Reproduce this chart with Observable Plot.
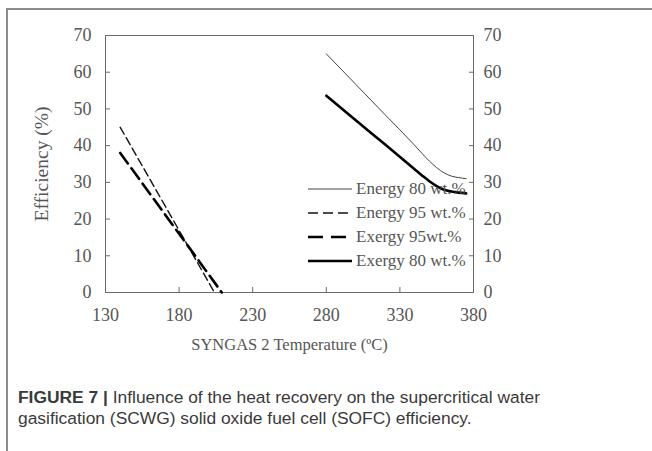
<!DOCTYPE html>
<html><head><meta charset="utf-8">
<script src="https://cdn.jsdelivr.net/npm/d3@7"></script>
<script src="https://cdn.jsdelivr.net/npm/@observablehq/plot@0.6"></script>
<style>
body{margin:0;background:#fff;}
#wrap{position:relative;width:652px;height:451px;overflow:hidden;background:#fff;}
#frame{position:absolute;left:6px;top:8px;width:700px;height:500px;border-left:2px solid #8c8c8c;border-top:2px solid #8c8c8c;box-sizing:border-box;}
#chart{position:absolute;left:0;top:0;}
#legend{position:absolute;left:308px;top:177px;font-family:"Liberation Serif","Times New Roman",serif;font-size:17px;color:#555;}
.row{display:flex;align-items:center;height:24px;white-space:nowrap;}
.row svg{margin-right:4px;}
#caption{position:absolute;left:18px;top:387px;font-family:"Liberation Sans",Arial,sans-serif;font-size:17.4px;color:#3a3a3a;line-height:21px;}
#caption b{font-weight:bold;}
</style></head>
<body>
<div id="wrap">
<div id="frame"></div>
<div id="chart"></div>
<div id="legend"></div>
<div id="caption"><b>FIGURE 7 |</b> Influence of the heat recovery on the supercritical water<br>gasification (SCWG) solid oxide fuel cell (SOFC) efficiency.</div>
</div>
<script>
// ---- data ----
const xTicks = [130, 180, 230, 280, 330, 380];
const yTicks = [0, 10, 20, 30, 40, 50, 60, 70];

const tempEnergy80 = [280, 300, 320, 340, 345, 350, 355, 360, 365, 370, 375];
const energy80     = [65, 56.7, 48.4, 40.1, 37.9, 35.8, 34.0, 32.6, 31.7, 31.3, 31.0];

const tempExergy80 = [280, 300, 320, 340, 345, 350, 355, 360, 365, 370, 375];
const exergy80     = [53.6, 46.9, 40.3, 33.6, 31.9, 30.3, 29.0, 28.0, 27.5, 27.2, 27.0];

const tempEnergy95 = [140, 186, 204];
const energy95     = [45, 12.7, 0];

const tempExergy95 = [140, 186, 209];
const exergy95     = [38, 12.7, 0];

const seriesNames = ["Energy 80 wt.%", "Energy 95 wt.%", "Exergy 95wt.%", "Exergy 80 wt.%"];

// ---- build tables ----
const toRows = (xs, ys) => xs.map((x, i) => ({x, y: ys[i]}));
const dE80 = toRows(tempEnergy80, energy80);
const dX80 = toRows(tempExergy80, exergy80);
const dE95 = toRows(tempEnergy95, energy95);
const dX95 = toRows(tempExergy95, exergy95);

const styles = {
  "Energy 80 wt.%": {stroke: "#444", strokeWidth: 1, dash: null},
  "Energy 95 wt.%": {stroke: "#111", strokeWidth: 1.4, dash: "8,4"},
  "Exergy 95wt.%":  {stroke: "#000", strokeWidth: 2.6, dash: "13,6"},
  "Exergy 80 wt.%": {stroke: "#000", strokeWidth: 2.6, dash: null}
};
const font = '"Liberation Serif","Times New Roman",serif';

const chart = Plot.plot({
  width: 652,
  height: 360,
  marginLeft: 105,
  marginRight: 179,
  marginTop: 35,
  marginBottom: 68,
  style: {fontFamily: font, fontSize: "16px", color: "#555", background: "transparent"},
  x: {domain: [130, 380]},
  y: {domain: [0, 70]},
  marks: [
    Plot.frame({stroke: "#6a6a6a"}),
    // inward ticks
    Plot.axisX({ticks: xTicks, tickSize: 5, dy: -5, tickFormat: () => "", label: null, stroke: "#6a6a6a"}),
    Plot.axisY({anchor: "left", ticks: yTicks, tickSize: 5, dx: 5, tickFormat: () => "", label: null, stroke: "#6a6a6a"}),
    Plot.axisY({anchor: "right", ticks: yTicks, tickSize: 5, dx: -5, tickFormat: () => "", label: null, stroke: "#6a6a6a"}),
    // labels
    Plot.axisX({ticks: xTicks, tickSize: 0, tickPadding: 16, fill: "#555", fontSize: 18, label: null}),
    Plot.axisY({anchor: "left", ticks: yTicks, tickSize: 0, tickPadding: 14, fill: "#555", fontSize: 18, label: null}),
    Plot.axisY({anchor: "right", ticks: yTicks, tickSize: 0, tickPadding: 10, fill: "#555", fontSize: 18, label: null}),
    Plot.axisX({ticks: [], tickSize: 0, fill: "#555", fontSize: 16.5,
      label: "SYNGAS 2 Temperature (ºC)", labelAnchor: "center", labelOffset: 57, labelArrow: false}),
    Plot.axisY({anchor: "left", ticks: [], tickSize: 0, fill: "#555", fontSize: 19.5,
      label: "Efficiency (%)", labelAnchor: "center", labelOffset: 71, labelArrow: false}),
    // series
    Plot.line(dE80, {x: "x", y: "y", curve: "monotone-x", stroke: styles["Energy 80 wt.%"].stroke, strokeWidth: styles["Energy 80 wt.%"].strokeWidth}),
    Plot.line(dX80, {x: "x", y: "y", curve: "monotone-x", stroke: styles["Exergy 80 wt.%"].stroke, strokeWidth: styles["Exergy 80 wt.%"].strokeWidth}),
    Plot.line(dE95, {x: "x", y: "y", stroke: styles["Energy 95 wt.%"].stroke, strokeWidth: styles["Energy 95 wt.%"].strokeWidth, strokeDasharray: styles["Energy 95 wt.%"].dash}),
    Plot.line(dX95, {x: "x", y: "y", stroke: styles["Exergy 95wt.%"].stroke, strokeWidth: styles["Exergy 95wt.%"].strokeWidth, strokeDasharray: styles["Exergy 95wt.%"].dash})
  ]
});
document.getElementById("chart").appendChild(chart);

// legend
const leg = document.getElementById("legend");
seriesNames.forEach(name => {
  const s = styles[name];
  const row = document.createElement("div");
  row.className = "row";
  const ns = "http://www.w3.org/2000/svg";
  const svg = document.createElementNS(ns, "svg");
  svg.setAttribute("width", 44); svg.setAttribute("height", 10);
  const ln = document.createElementNS(ns, "line");
  ln.setAttribute("x1", 0); ln.setAttribute("x2", 44);
  ln.setAttribute("y1", 5); ln.setAttribute("y2", 5);
  ln.setAttribute("stroke", s.stroke);
  ln.setAttribute("stroke-width", s.strokeWidth);
  if (s.dash) ln.setAttribute("stroke-dasharray", name.startsWith("Energy") ? "10,5" : "15,8");
  svg.appendChild(ln);
  row.appendChild(svg);
  const t = document.createElement("span");
  t.textContent = name;
  row.appendChild(t);
  leg.appendChild(row);
});
</script>
</body></html>
